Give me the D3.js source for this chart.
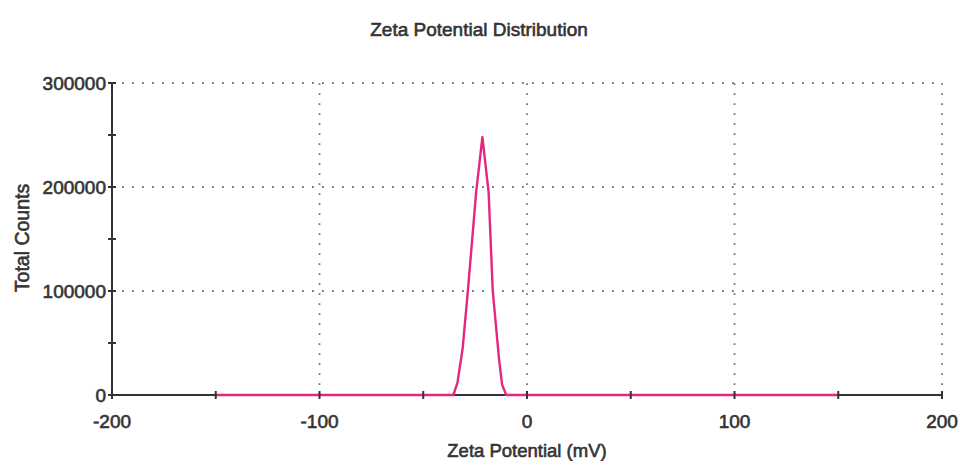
<!DOCTYPE html>
<html><head><meta charset="utf-8">
<script src="https://cdn.jsdelivr.net/npm/d3@7"></script>
<style>body{margin:0;background:#fff}svg{display:block}text{font-family:"Liberation Sans",Arial,sans-serif}</style>
</head><body>
<svg id="c" width="960" height="461"></svg>
<script>
const title = "Zeta Potential Distribution";
const xLabel = "Zeta Potential (mV)";
const yLabel = "Total Counts";
const xTicks = [-200, -100, 0, 100, 200];
const xMinorTicks = [-150, -50, 50, 150];
const yTicks = [0, 100000, 200000, 300000];
const yMinorTicks = [50000, 150000, 250000];
const zeta = [-150, -35.5, -33.5, -31, -28.5, -24.5, -21.5, -18.5, -16.5, -13.5, -12, -10, 150];
const counts = [0, 0, 12000, 45000, 100000, 195000, 248000, 195000, 100000, 35000, 10000, 0, 0];

const svg = d3.select("#c");
const m = {l:112, r:942, t:83, b:395};
const x = d3.scaleLinear().domain([-200, 200]).range([m.l, m.r]);
const y = d3.scaleLinear().domain([0, 300000]).range([m.b, m.t]);

// grid
const g = svg.append("g").attr("stroke", "#777").attr("stroke-width", 1.8).attr("stroke-dasharray", "1.8,8.2");
g.selectAll(".gy").data(yTicks.filter(d => d > 0)).join("line")
  .attr("x1", m.l).attr("x2", m.r).attr("y1", d => y(d)).attr("y2", d => y(d));
g.selectAll(".gx").data(xTicks.filter(d => d > -200)).join("line")
  .attr("y1", m.b).attr("y2", m.t).attr("x1", d => x(d)).attr("x2", d => x(d));

// axes lines
svg.append("line").attr("x1", m.l).attr("x2", m.r).attr("y1", m.b).attr("y2", m.b).attr("stroke", "#333").attr("stroke-width", 2);
svg.append("line").attr("x1", m.l).attr("x2", m.l).attr("y1", m.b).attr("y2", m.t).attr("stroke", "#333").attr("stroke-width", 2);

// line
const line = d3.line().x((d, i) => x(zeta[i])).y((d, i) => y(counts[i]));
svg.append("path").datum(counts).attr("d", line).attr("fill", "none")
  .attr("stroke", "#e4267f").attr("stroke-width", 2.4).attr("stroke-linejoin", "round");

// ticks
const tk = svg.append("g").attr("stroke", "#333").attr("stroke-width", 2);
tk.selectAll(".xt").data(xTicks.concat(xMinorTicks)).join("line")
  .attr("x1", d => x(d)).attr("x2", d => x(d)).attr("y1", m.b - 4).attr("y2", m.b + 4);
tk.selectAll(".yt").data(yTicks.concat(yMinorTicks)).join("line")
  .attr("y1", d => y(d)).attr("y2", d => y(d)).attr("x1", m.l - 4).attr("x2", m.l + 4);

const txt = sel => sel.attr("fill", "#333").attr("stroke", "#333").attr("stroke-width", 0.6);

// labels
svg.selectAll(".xl").data(xTicks).join("text")
  .attr("x", d => x(d)).attr("y", 428).attr("text-anchor", "middle")
  .attr("font-size", 19).text(d => d).call(txt);
svg.selectAll(".yl").data(yTicks).join("text")
  .attr("x", 106).attr("y", d => y(d) + 7).attr("text-anchor", "end")
  .attr("font-size", 19).text(d => d).call(txt);

svg.append("text").attr("x", 527).attr("y", 457).attr("text-anchor", "middle")
  .attr("font-size", 18.5).text(xLabel).call(txt);
svg.append("text").attr("transform", "translate(29,238) rotate(-90)").attr("text-anchor", "middle")
  .attr("font-size", 19.5).text(yLabel).call(txt);
svg.append("text").attr("x", 479).attr("y", 36).attr("text-anchor", "middle")
  .attr("font-size", 19).text(title).call(txt);
</script>
</body></html>
